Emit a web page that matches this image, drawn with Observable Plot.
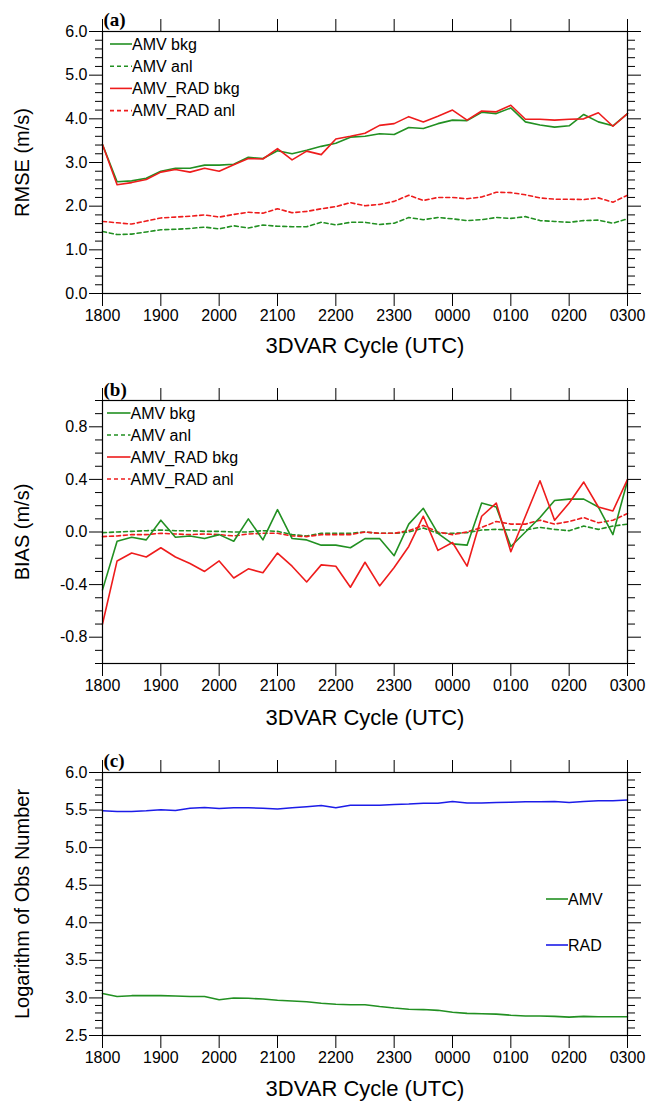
<!DOCTYPE html>
<html><head><meta charset="utf-8">
<script src="https://cdn.jsdelivr.net/npm/d3@7"></script>
<script src="https://cdn.jsdelivr.net/npm/@observablehq/plot@0.6"></script>
<style>
body{margin:0;background:#fff;}
#wrap{position:relative;width:651px;height:1109px;font-family:"Liberation Sans",Arial,sans-serif;background:#fff;}
.panel{position:absolute;left:0;}
.legend{position:absolute;overflow:visible;}
</style></head><body><div id="wrap"></div>
<script>
// ---- x axis (3DVAR cycles, every 15 min; labels every hour) ----
const xTickIndex = [0, 4, 8, 12, 16, 20, 24, 28, 32, 36];
const xTickLabels = ["1800","1900","2000","2100","2200","2300","0000","0100","0200","0300"];
const xTitle = "3DVAR Cycle (UTC)";

// ---- (a) RMSE ----
const rmseAmvBkg = [3.41,2.56,2.58,2.64,2.80,2.87,2.87,2.94,2.94,2.96,3.12,3.09,3.27,3.20,3.28,3.37,3.44,3.58,3.60,
  3.66,3.64,3.80,3.78,3.89,3.97,3.96,4.15,4.12,4.25,3.93,3.86,3.81,3.84,4.10,3.93,3.84,4.12];
const rmseAmvAnl = [1.42,1.35,1.36,1.41,1.46,1.47,1.49,1.52,1.48,1.55,1.50,1.57,1.54,1.53,1.53,1.63,1.57,1.63,1.63,
  1.58,1.61,1.74,1.69,1.74,1.71,1.67,1.69,1.74,1.72,1.76,1.67,1.65,1.63,1.67,1.68,1.61,1.71];
const rmseRadBkg = [3.41,2.49,2.54,2.61,2.78,2.84,2.78,2.87,2.80,2.95,3.09,3.08,3.32,3.06,3.26,3.18,3.54,3.60,3.67,
  3.85,3.89,4.05,3.93,4.06,4.20,3.97,4.18,4.16,4.31,3.99,3.99,3.97,3.99,4.00,4.14,3.83,4.12];
const rmseRadAnl = [1.65,1.62,1.59,1.66,1.73,1.75,1.77,1.80,1.75,1.81,1.86,1.84,1.94,1.85,1.88,1.94,1.99,2.08,2.01,
  2.04,2.11,2.25,2.13,2.20,2.20,2.17,2.21,2.32,2.31,2.26,2.19,2.16,2.16,2.15,2.19,2.09,2.25];
const rmseTicks = [0,1,2,3,4,5,6];
const rmseTickLabels = ["0.0","1.0","2.0","3.0","4.0","5.0","6.0"];

// ---- (b) BIAS ----
const biasAmvBkg = [-0.44,-0.07,-0.04,-0.06,0.09,-0.04,-0.03,-0.05,-0.02,-0.07,0.10,-0.06,0.17,-0.05,-0.06,-0.10,-0.10,-0.12,-0.05,
  -0.05,-0.18,0.06,0.18,-0.01,-0.09,-0.10,0.22,0.19,-0.11,0.00,0.11,0.24,0.25,0.25,0.19,-0.02,0.39];
const biasAmvAnl = [-0.005,0.0,0.005,0.01,0.015,0.01,0.01,0.005,0.005,0.0,0.0,0.01,0.005,-0.02,-0.03,-0.01,-0.01,-0.01,0.0,
  -0.01,-0.01,0.0,0.03,-0.01,-0.01,-0.005,0.015,0.02,0.015,0.015,0.035,0.02,0.01,0.045,0.02,0.045,0.06];
const biasRadBkg = [-0.70,-0.22,-0.16,-0.19,-0.12,-0.19,-0.24,-0.30,-0.22,-0.35,-0.28,-0.31,-0.16,-0.26,-0.38,-0.25,-0.26,-0.42,-0.23,
  -0.41,-0.27,-0.11,0.12,-0.14,-0.08,-0.26,0.12,0.22,-0.15,0.12,0.39,0.09,0.22,0.38,0.19,0.16,0.40];
const biasRadAnl = [-0.035,-0.03,-0.02,-0.02,-0.01,-0.015,-0.02,-0.015,-0.02,-0.03,-0.015,-0.01,-0.01,-0.03,-0.035,-0.02,-0.02,-0.02,0.0,
  -0.01,-0.01,0.01,0.05,0.0,-0.02,0.0,0.035,0.08,0.06,0.06,0.09,0.06,0.08,0.11,0.07,0.09,0.14];
const biasTicks = [-0.8,-0.4,0,0.4,0.8];
const biasTickLabels = ["-0.8","-0.4","0.0","0.4","0.8"];

// ---- (c) log10 of obs number ----
const logAmv = [3.06,3.02,3.03,3.03,3.03,3.025,3.02,3.02,2.975,3.0,2.995,2.985,2.97,2.96,2.95,2.93,2.915,2.91,2.91,
  2.885,2.865,2.85,2.845,2.835,2.81,2.795,2.79,2.785,2.77,2.76,2.76,2.755,2.745,2.755,2.75,2.75,2.75];
const logRad = [5.49,5.48,5.48,5.49,5.505,5.495,5.525,5.535,5.52,5.53,5.53,5.525,5.515,5.53,5.545,5.56,5.53,5.565,5.565,
  5.565,5.575,5.58,5.59,5.59,5.615,5.595,5.595,5.60,5.605,5.61,5.61,5.615,5.60,5.615,5.625,5.625,5.635];
const logTicks = [2.5,3.0,3.5,4.0,4.5,5.0,5.5,6.0];
const logTickLabels = ["2.5","3.0","3.5","4.0","4.5","5.0","5.5","6.0"];

const GREEN = "#229022", RED = "#ee1c1c", BLUE = "#1c1ce8";
const DASH = "4,3";
const FONT = "'Liberation Sans', Arial, Helvetica, sans-serif";

function minorTicks(lo, hi, step, majors) {
  const n = Math.round((hi - lo) / step);
  const out = [];
  for (let k = 0; k <= n; k++) {
    const v = +(lo + k * step).toFixed(4);
    if (!majors.some(m => Math.abs(m - v) < 1e-6)) out.push(v);
  }
  return out;
}

function makePanel(o) {
  const minors = minorTicks(o.yDomain[0], o.yDomain[1], o.minorStep, o.majors);
  const fmt = d => o.majorLabels[o.majors.findIndex(m => Math.abs(m - d) < 1e-6)];
  const xfmt = d => xTickLabels[xTickIndex.indexOf(d)];
  const marks = [];
  for (const s of o.series) {
    marks.push(Plot.line(s.values, {x: (d, i) => i, y: d => d, stroke: s.color, strokeWidth: 1.6,
      strokeDasharray: s.dash || null}));
  }
  marks.push(
    Plot.frame({stroke: "#000", strokeWidth: 1.2}),
    Plot.axisX(xTickIndex, {anchor: "bottom", tickSize: 13, tickPadding: 3, tickFormat: xfmt, fontSize: 16, label: null}),
    Plot.axisX(xTickIndex, {anchor: "top", tickSize: 13, tickFormat: () => "", label: null}),
    Plot.axisY(o.majors, {anchor: "left", tickSize: 13, tickPadding: 2, tickFormat: fmt, fontSize: 16, label: null}),
    Plot.axisY(minors, {anchor: "left", tickSize: 7, tickFormat: () => "", label: null}),
    Plot.axisY(o.majors, {anchor: "right", tickSize: 13, tickFormat: () => "", label: null}),
    Plot.axisY(minors, {anchor: "right", tickSize: 7, tickFormat: () => "", label: null}),
    Plot.text([xTitle], {frameAnchor: "bottom", dy: o.titleDy, text: d => d, fontSize: 22,
      textAnchor: "middle", lineAnchor: "middle"}),
    Plot.text([o.yTitle], {frameAnchor: "left", dx: -80, rotate: -90, text: d => d, fontSize: 20,
      textAnchor: "middle", lineAnchor: "middle"}),
    Plot.text([o.panelLabel], {frameAnchor: "top-left", dx: 1, dy: o.labelDy, textAnchor: "start", lineAnchor: "middle",
      text: d => d, fontFamily: "'Liberation Serif', 'Times New Roman', serif", fontWeight: "bold", fontSize: 19})
  );
  const chart = Plot.plot({
    width: 651, height: o.height,
    marginLeft: 102, marginRight: 24, marginTop: o.marginTop, marginBottom: o.marginBottom,
    style: {fontFamily: FONT, fontSize: "16px", color: "#000", background: "#fff", overflow: "visible"},
    x: {domain: [0, 36]},
    y: {domain: o.yDomain},
    marks
  });
  const div = document.createElement("div");
  div.className = "panel";
  div.style.top = o.top + "px";
  div.appendChild(chart);
  document.getElementById("wrap").appendChild(div);
}

function addLegend(items, left, top, rowGap, lineLen) {
  const h = items.length * rowGap + 20;
  const svg = d3.select("#wrap").append("svg").attr("class", "legend")
    .style("left", left + "px").style("top", (top - 10) + "px")
    .attr("width", 200).attr("height", h);
  items.forEach((it, k) => {
    const y = 10 + k * rowGap;
    svg.append("line").attr("x1", 0).attr("x2", lineLen).attr("y1", y).attr("y2", y)
      .attr("stroke", it.color).attr("stroke-width", 1.6).attr("stroke-dasharray", it.dash || null);
    svg.append("text").attr("x", lineLen).attr("y", y).attr("dy", "0.36em")
      .attr("font-family", FONT).attr("font-size", 16).attr("fill", "#000").text(it.label);
  });
}

makePanel({
  top: 0, height: 370, marginTop: 31, marginBottom: 77, yDomain: [0, 6], minorStep: 0.2,
  majors: rmseTicks, majorLabels: rmseTickLabels, yTitle: "RMSE (m/s)", panelLabel: "(a)", labelDy: -12, titleDy: 52,
  series: [
    {values: rmseAmvAnl, color: GREEN, dash: DASH},
    {values: rmseRadAnl, color: RED, dash: DASH},
    {values: rmseAmvBkg, color: GREEN},
    {values: rmseRadBkg, color: RED}
  ]
});
makePanel({
  top: 370, height: 370, marginTop: 30, marginBottom: 77, yDomain: [-1, 1], minorStep: 0.1,
  majors: biasTicks, majorLabels: biasTickLabels, yTitle: "BIAS (m/s)", panelLabel: "(b)", labelDy: -11, titleDy: 54,
  series: [
    {values: biasAmvAnl, color: GREEN, dash: DASH},
    {values: biasRadAnl, color: RED, dash: DASH},
    {values: biasAmvBkg, color: GREEN},
    {values: biasRadBkg, color: RED}
  ]
});
makePanel({
  top: 740, height: 369, marginTop: 32, marginBottom: 74, yDomain: [2.5, 6], minorStep: 0.1,
  majors: logTicks, majorLabels: logTickLabels, yTitle: "Logarithm of Obs Number", panelLabel: "(c)", labelDy: -12, titleDy: 53,
  series: [
    {values: logAmv, color: GREEN},
    {values: logRad, color: BLUE}
  ]
});

const legendAB = [
  {label: "AMV bkg", color: GREEN},
  {label: "AMV anl", color: GREEN, dash: DASH},
  {label: "AMV_RAD bkg", color: RED},
  {label: "AMV_RAD anl", color: RED, dash: DASH}
];
addLegend(legendAB, 110, 44.3, 22.2, 22);
addLegend(legendAB, 107, 413.3, 22, 23.5);
addLegend([{label: "AMV", color: GREEN}, {label: "RAD", color: BLUE}], 546, 899, 46, 22);
</script>
</body></html>
